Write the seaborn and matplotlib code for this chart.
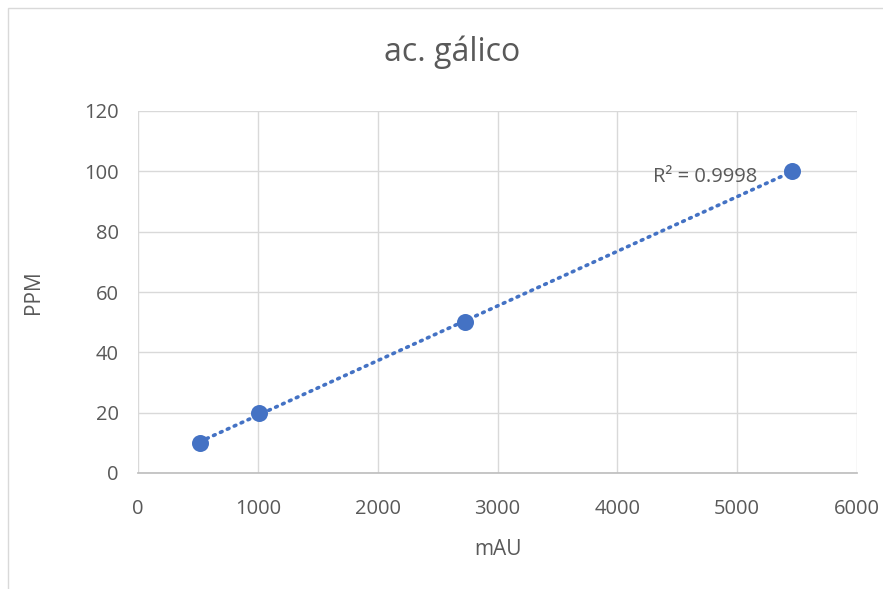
import numpy as np
import pandas as pd
import matplotlib
matplotlib.use("Agg")
import matplotlib.pyplot as plt
import seaborn as sns
from matplotlib.patches import Rectangle

# Data
mau = [515, 1010, 2730, 5455]
ppm = [10, 20, 50, 100]
x_ticks = [0, 1000, 2000, 3000, 4000, 5000, 6000]
y_ticks = [0, 20, 40, 60, 80, 100, 120]
title = "ac. gálico"
x_label = "mAU"
y_label = "PPM"
r2_label = "R² = 0.9998"

sns.set_theme(style="white")
plt.rcParams['font.family'] = ['Open Sans', 'DejaVu Sans']

df = pd.DataFrame({"mAU": mau, "PPM": ppm})

fig = plt.figure(figsize=(8.83, 5.89), dpi=100)
W, H = 883, 589
ax = fig.add_axes([138 / W, 1 - 473 / H, (857 - 138) / W, (473 - 111) / H])

# chart border
fig.patches.append(Rectangle((8 / W, -0.05), 1.2, 1 - 8 / H + 0.05, transform=fig.transFigure,
                             fill=False, edgecolor="#d9d9d9", linewidth=1.0))

blue = "#4472C4"
grey_text = "#595959"

# trendline
coef = np.polyfit(mau, ppm, 1)
xs = np.array([min(mau), max(mau)])
ax.plot(xs, np.polyval(coef, xs), color=blue, linewidth=2.6,
        linestyle=(0, (0.5, 1.6)), dash_capstyle="round", zorder=2)

sns.scatterplot(data=df, x="mAU", y="PPM", ax=ax, s=150, color=blue,
                edgecolor=blue, linewidth=0, zorder=3)

ax.set_xlim(0, 6000)
ax.set_ylim(0, 120)
ax.set_xticks(x_ticks)
ax.set_yticks(y_ticks)
ax.set_xticklabels([str(t) for t in x_ticks])
ax.set_yticklabels([str(t) for t in y_ticks])
ax.grid(True, color="#d9d9d9", linewidth=1.0)
ax.set_axisbelow(True)
for s in ax.spines.values():
    s.set_visible(False)
ax.spines['bottom'].set_visible(True)
ax.spines['bottom'].set_color("#bfbfbf")
ax.tick_params(axis='both', length=0, labelsize=14.5, colors=grey_text)
ax.tick_params(axis='x', pad=19)
ax.tick_params(axis='y', pad=14)

ax.set_xlabel(x_label, fontsize=15, color=grey_text, labelpad=14)
ax.set_ylabel(y_label, fontsize=15, color=grey_text, labelpad=29)
fig.text(452 / W, 1 - 52 / H, title, fontsize=23, color=grey_text, ha="center", va="center")

ax.text(4300, 98.0, r2_label, fontsize=14.5, color=grey_text, ha="left", va="center", zorder=4)

fig.savefig("out.png", dpi=100)
